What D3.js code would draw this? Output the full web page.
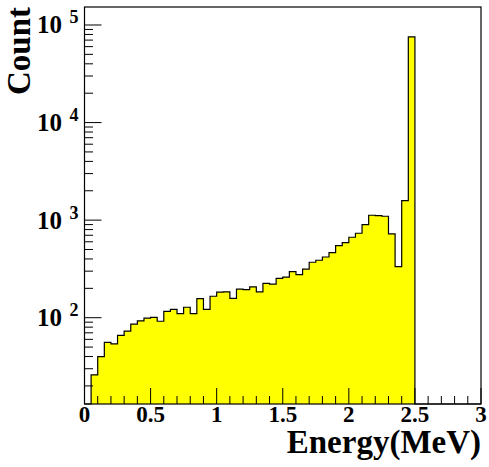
<!DOCTYPE html>
<html>
<head>
<meta charset="utf-8">
<script src="https://cdn.jsdelivr.net/npm/d3@7"></script>
<style>
  body { margin: 0; background: #fff; }
  text { font-family: "Liberation Serif", "Times New Roman", serif; font-weight: bold; fill: #000; }
</style>
</head>
<body>
<svg id="svg" width="489" height="467"></svg>
<script>
// histogram: 60 bins of 0.05 MeV from 0 to 3
var binWidth = 0.05;
var counts = [0, 26, 40, 56, 54, 66, 73, 86, 93, 99,
              101, 92, 116, 122, 110, 128, 110, 157, 122, 166,
              183, 184, 158, 196, 194, 207, 184, 225, 221, 253,
              261, 296, 276, 314, 370, 388, 419, 464, 547, 587,
              668, 734, 899, 1122, 1112, 1096, 722, 334, 1585, 75700,
              0, 0, 0, 0, 0, 0, 0, 0, 0, 0];
var xTicks = [0, 0.5, 1, 1.5, 2, 2.5, 3];
var xTickLabels = ["0", "0.5", "1", "1.5", "2", "2.5", "3"];
var yDecades = [2, 3, 4, 5];
var xTitle = "Energy(MeV)";
var yTitle = "Count";

var svg = d3.select("svg");
var frameL = 84.5, frameR = 481, frameT = 7, frameB = 404;

var x = d3.scaleLinear().domain([0, 3]).range([frameL, frameR]);
var y = d3.scaleLog().domain([13.05, 152900]).range([frameB, frameT]).clamp(true);

function yv(c) {
    return c > 0 ? y(c) : frameB;
}

// histogram outline (step)
var pts = [[x(0), frameB]];
counts.forEach(function (c, i) {
    pts.push([x(i * binWidth), yv(c)]);
    pts.push([x((i + 1) * binWidth), yv(c)]);
});
pts.push([x(3), frameB]);

var line = d3.line();
svg.append("path")
    .attr("d", line(pts) + "Z")
    .attr("fill", "#ffff00")
    .attr("stroke", "none");
svg.append("path")
    .attr("d", line(pts))
    .attr("fill", "none")
    .attr("stroke", "#000")
    .attr("stroke-width", 1.2);

// frame
svg.append("rect")
    .attr("x", frameL).attr("y", frameT)
    .attr("width", frameR - frameL).attr("height", frameB - frameT)
    .attr("fill", "none").attr("stroke", "#000").attr("stroke-width", 1.2);

// x ticks
var g = svg.append("g").attr("stroke", "#000").attr("stroke-width", 1);
d3.range(0, 31).forEach(function (k) {
    var v = k * 0.1;
    var major = k % 5 === 0;
    g.append("line")
        .attr("x1", x(v)).attr("x2", x(v))
        .attr("y1", frameB).attr("y2", frameB - (major ? 16 : 8));
});

svg.selectAll(".xlab")
    .data(xTicks)
    .enter().append("text")
    .attr("class", "xlab")
    .attr("x", function (d) { return x(d); })
    .attr("y", frameB + 18)
    .attr("text-anchor", "middle")
    .attr("font-size", "23px")
    .text(function (d, i) { return xTickLabels[i]; });

// y ticks (log)
[1, 2, 3, 4, 5].forEach(function (d) {
    for (var k = 1; k <= 9; k++) {
        var v = k * Math.pow(10, d);
        if (v < y.domain()[0] || v > y.domain()[1]) continue;
        g.append("line")
            .attr("x1", frameL).attr("x2", frameL + (k === 1 ? 17 : 8.5))
            .attr("y1", y(v)).attr("y2", y(v));
    }
});

svg.selectAll(".ylab")
    .data(yDecades)
    .enter().append("text")
    .attr("class", "ylab")
    .attr("x", 62)
    .attr("y", function (d) { return y(Math.pow(10, d)) + 8.5; })
    .attr("text-anchor", "end")
    .attr("font-size", "25px")
    .text("10");
svg.selectAll(".yexp")
    .data(yDecades)
    .enter().append("text")
    .attr("class", "yexp")
    .attr("x", 69.5)
    .attr("y", function (d) { return y(Math.pow(10, d)) - 1.5; })
    .attr("font-size", "18px")
    .text(function (d) { return d; });

// axis titles
svg.append("text")
    .attr("x", frameR)
    .attr("y", 453)
    .attr("text-anchor", "end")
    .attr("font-size", "33px")
    .text(xTitle);

svg.append("text")
    .attr("transform", "translate(30,7) rotate(-90)")
    .attr("text-anchor", "end")
    .attr("font-size", "33px")
    .text(yTitle);
</script>
</body>
</html>
